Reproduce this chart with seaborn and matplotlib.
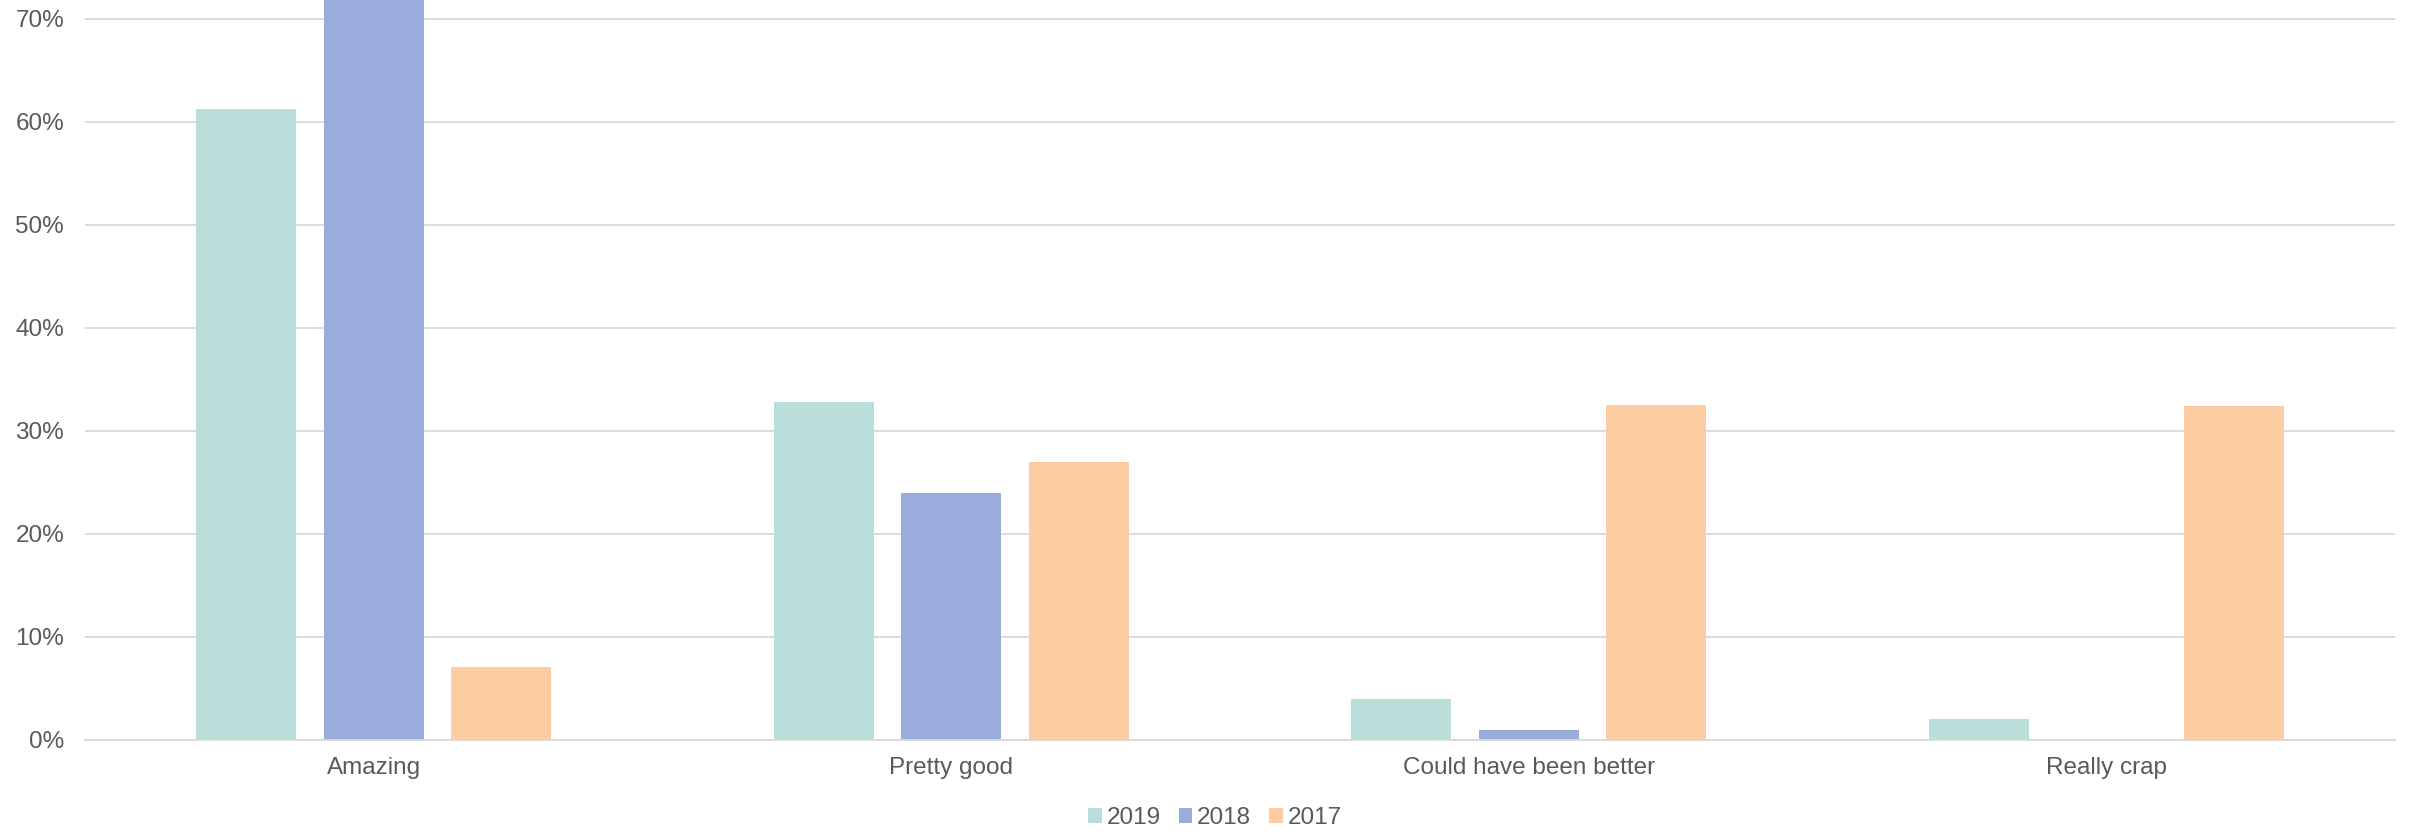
import pandas as pd
import seaborn as sns
import matplotlib.pyplot as plt
from matplotlib.ticker import PercentFormatter, MultipleLocator

categories = ["Amazing", "Pretty good", "Could have been better", "Really crap"]
years = ["2019", "2018", "2017"]
v2019 = [61.2, 32.8, 4.0, 2.0]
v2018 = [75.0, 24.0, 1.0, 0.0]
v2017 = [7.1, 27.0, 32.5, 32.4]

colors = ["#BADFDB", "#99ACDC", "#FDCCA3"]
grey = "#595959"

rows = []
for year, vals in zip(years, [v2019, v2018, v2017]):
    for cat, v in zip(categories, vals):
        rows.append({"Answer": cat, "Year": year, "Share": v})
frame = pd.DataFrame(rows)

sns.set_style("white")
plt.rcParams["font.family"] = ["Liberation Sans", "DejaVu Sans"]

fig = plt.figure(figsize=(24.12, 8.32), dpi=100)
ax = fig.add_axes([0.0352, 0.1106, 0.993 - 0.0352, 1 - 0.1106])

sns.barplot(data=frame, x="Answer", y="Share", hue="Year", order=categories,
            hue_order=years, palette=colors, width=0.663, gap=0.217,
            linewidth=0, saturation=1, ax=ax)

ax.set_ylim(0, 71.8)
ax.set_xlim(-0.5, 3.5)
ax.yaxis.set_major_locator(MultipleLocator(10))
ax.yaxis.set_major_formatter(PercentFormatter(decimals=0))
ax.grid(axis="y", color="#D9D9D9", linewidth=1.3)
ax.set_axisbelow(True)
for s in ["top", "right", "left"]:
    ax.spines[s].set_visible(False)
ax.spines["bottom"].set_color("#D9D9D9")
ax.spines["bottom"].set_linewidth(1.3)
ax.tick_params(axis="both", length=0, labelsize=17.5, colors=grey)
ax.tick_params(axis="x", pad=12)
ax.tick_params(axis="y", pad=15)
ax.set_xlabel("")
ax.set_ylabel("")

handles, labels = ax.get_legend_handles_labels()
ax.legend(handles, labels, loc="center", bbox_to_anchor=(0.5 + 9 / 2412, 14 / 832),
          bbox_transform=fig.transFigure, ncol=3, frameon=False, fontsize=17.5,
          labelcolor=grey, handlelength=0.55, handleheight=0.55,
          handletextpad=0.2, columnspacing=0.75, borderaxespad=0, borderpad=0)

fig.savefig("out.png", dpi=100)
